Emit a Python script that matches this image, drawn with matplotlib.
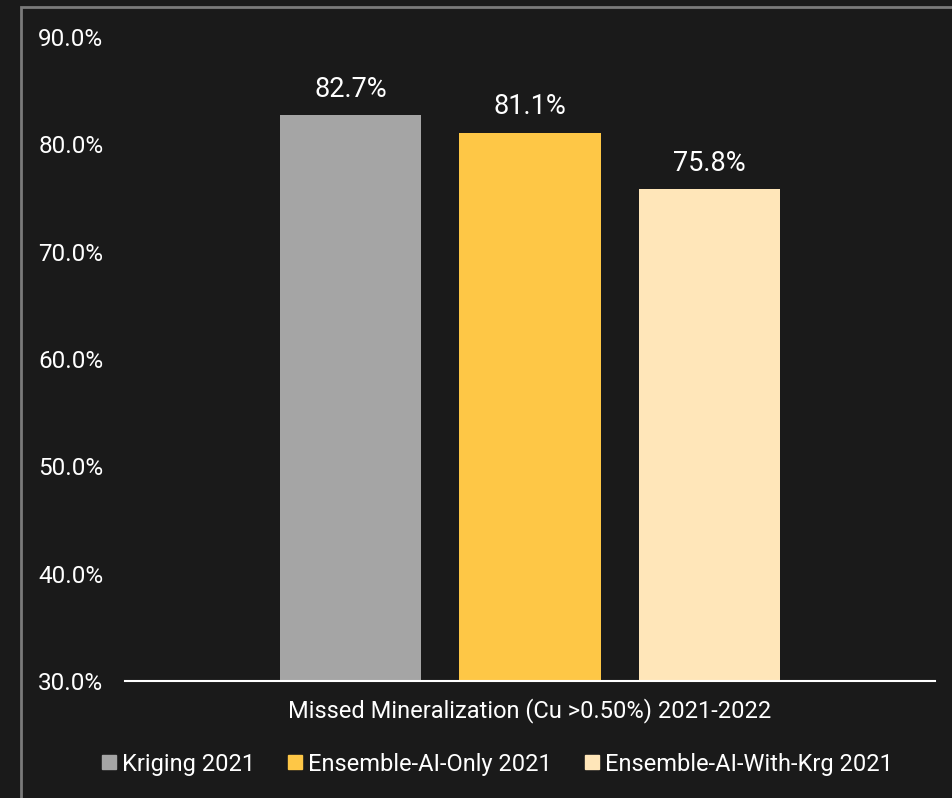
import matplotlib.pyplot as plt
from matplotlib.patches import Rectangle
from matplotlib.lines import Line2D

plt.rcParams['font.family'] = ['Roboto', 'DejaVu Sans']

series = ['Kriging 2021', 'Ensemble-AI-Only 2021', 'Ensemble-AI-With-Krg 2021']
values = [82.7, 81.1, 75.8]
colors = ['#a5a5a5', '#fec746', '#ffe6b9']
category = 'Missed Mineralization (Cu >0.50%) 2021-2022'
yticks = [30, 40, 50, 60, 70, 80, 90]

bg = '#1a1a1a'
fig = plt.figure(figsize=(9.53, 7.98), dpi=100, facecolor=bg)
ax = fig.add_axes([125/953, 1-681/798, 810/953, 644/798], facecolor=bg)

# outer frame of the chart area
fig.patches.append(Rectangle((21/953, -0.05), 1.0, 1-7/798+0.05, transform=fig.transFigure,
                             fill=False, edgecolor='#7a7a7a', linewidth=2))

xs = [-1, 0, 1]
bars = ax.bar(xs, [v - 30 for v in values], bottom=30, width=0.79, color=colors)
for x, v in zip(xs, values):
    ax.text(x, v + 1.15, f'{v:.1f}%', ha='center', va='bottom', color='white',
            fontsize=19.5, fontweight='normal')

ax.set_xlim(-2.256, 2.256)
ax.set_ylim(30, 90)
ax.set_yticks(yticks)
ax.set_yticklabels([f'{t:.1f}%' for t in yticks])
ax.tick_params(axis='y', length=0, colors='white', labelsize=17.5, pad=15.5)
ax.set_xticks([])
for s in ['top', 'right', 'left']:
    ax.spines[s].set_visible(False)
ax.spines['bottom'].set_color('white')
ax.spines['bottom'].set_linewidth(1.5)

fig.text(530/953, 1-711/798, category, ha='center', va='center', color='white', fontsize=17)

handles = [Line2D([], [], marker='s', linestyle='', markersize=10, color=c) for c in colors]
fig.legend(handles, series, loc='center', bbox_to_anchor=(496/953, 1-764/798), ncol=3,
           frameon=False, fontsize=17, labelcolor='white', handletextpad=0.15,
           columnspacing=1.3, handlelength=0.8)

fig.savefig('out.png', dpi=100, facecolor=bg)
